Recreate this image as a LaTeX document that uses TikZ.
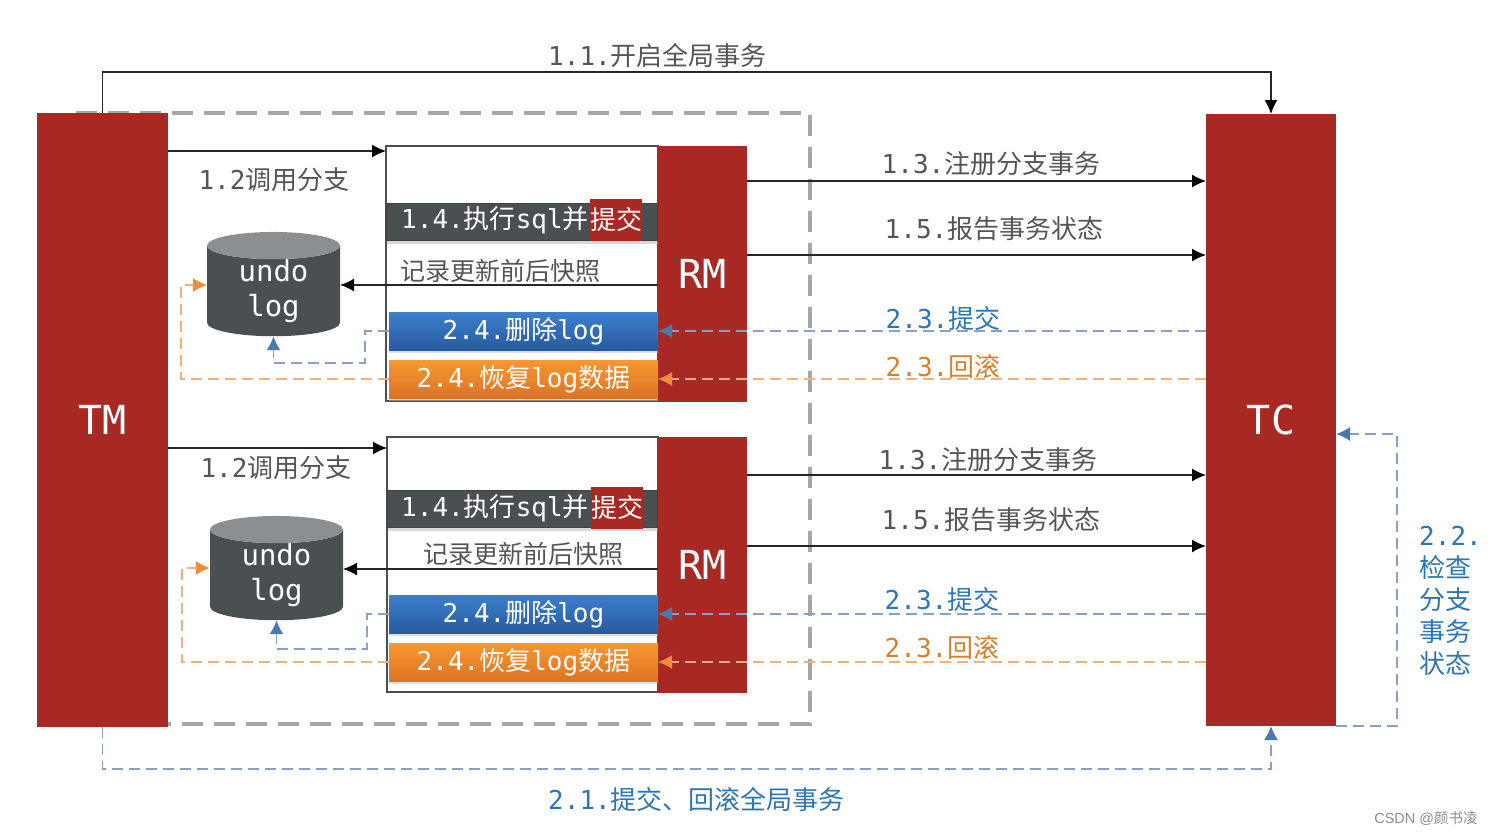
\documentclass[tikz,border=0pt]{standalone}
\usepackage{fontspec}
\setmainfont{DejaVu Sans Mono}
\newfontfamily\hzfont{Noto Sans CJK SC}
\newfontfamily\wmfont{Liberation Sans}
\newcommand{\hz}[1]{{\hzfont #1}}
\newcommand{\undotext}{\raisebox{-7pt}{\parbox{80pt}{\centering undo\\log}}}
\usetikzlibrary{arrows.meta,shapes.geometric,shadows}
\definecolor{brick}{RGB}{ 168, 40, 36 }
\definecolor{slate}{RGB}{ 74, 79, 82 }
\definecolor{slatetop}{RGB}{ 140, 143, 145 }
\definecolor{txtgray}{RGB}{ 85, 85, 85 }
\definecolor{txtblue}{RGB}{ 46, 117, 182 }
\definecolor{txtorange}{RGB}{ 214, 128, 44 }
\definecolor{dashblue}{RGB}{ 135, 160, 195 }
\definecolor{tipblue}{RGB}{ 74, 120, 176 }
\definecolor{dashorange}{RGB}{ 240, 175, 125 }
\definecolor{tiporange}{RGB}{ 237, 140, 60 }
\definecolor{deltop}{RGB}{ 60, 128, 204 }
\definecolor{delbot}{RGB}{ 40, 90, 160 }
\definecolor{redotop}{RGB}{ 247, 152, 50 }
\definecolor{redobot}{RGB}{ 220, 115, 35 }

\begin{document}
\begin{tikzpicture}[x=1pt,y=-1pt,
    flow/.style={draw=black!85,line width=1.4pt,-{Latex[length=14pt,width=13pt,color=black]}},
    blueflow/.style={draw=dashblue,line width=1.6pt,dash pattern=on 11pt off 6pt,
        -{Latex[length=14pt,width=14pt,color=tipblue]}},
    orangeflow/.style={draw=dashorange,line width=1.6pt,dash pattern=on 11pt off 6pt,
        -{Latex[length=14pt,width=14pt,color=tiporange]}},
    actor/.style={fill=brick,text=white,inner sep=0,outer sep=0,font=\fontsize{40}{44}\selectfont},
    rmbox/.style={draw=slate,line width=2pt,fill=white,anchor=north west,inner sep=0,outer sep=0},
    sqlbar/.style={fill=slate,draw=black!75,line width=1pt,anchor=north west,inner sep=0,minimum width=271pt,minimum height=37pt,
        drop shadow={shadow xshift=0pt,shadow yshift=-3pt,fill=black!30}},
    redtag/.style={fill=brick,text=white,inner sep=0,minimum width=52pt,minimum height=42pt,
        font=\fontsize{26}{30}\selectfont\hzfont},
    delbar/.style={top color=deltop,bottom color=delbot,
        text=white,anchor=north west,inner sep=0,outer sep=0,minimum width=269pt,minimum height=38pt,
        font=\fontsize{26}{30}\selectfont,
        drop shadow={shadow xshift=0pt,shadow yshift=-3pt,fill=black!25}},
    redobar/.style={top color=redotop,bottom color=redobot,
        text=white,anchor=north west,inner sep=0,outer sep=0,minimum width=269pt,minimum height=38pt,
        font=\fontsize{26}{30}\selectfont,
        drop shadow={shadow xshift=0pt,shadow yshift=-3pt,fill=black!25}},
    undodb/.style={shape=cylinder,shape border rotate=90,aspect=0.34,cylinder uses custom fill,
        cylinder body fill=slate,cylinder end fill=slatetop,text=white,inner sep=0,outer sep=0,
        minimum width=133pt,minimum height=97pt,font=\fontsize{29}{35}\selectfont},
    lbl/.style={text=txtgray,inner sep=0,font=\fontsize{26}{30}\selectfont},
    lblblue/.style={lbl,text=txtblue},
    lblorange/.style={lbl,text=txtorange}]
\useasboundingbox (0,0) rectangle (1491,835);

% global transaction frame
\draw[draw=black!35,line width=4pt,dash pattern=on 21pt off 11pt] (76,113) -- (810,113) -- (810,724) -- (168,724);

\node(tm)[actor,minimum width=131pt,minimum height=614pt] at (102.5,420) {\raisebox{-2pt}{TM}};
\node(tc)[actor,minimum width=130pt,minimum height=612pt] at (1271,420) {\raisebox{-1pt}{TC}};

% upper branch
\node(boxA)[rmbox,minimum width=272pt,minimum height=255pt] at (386,146) {};
\node(rmA)[actor,minimum width=89pt,minimum height=256pt] at (702.5,273.5) {\raisebox{-2pt}{RM}};
\node(sqlA)[sqlbar] at (386,203) {};
\node(sqlAtxt)[lbl,text=white,anchor=west] at (401,220) {1.4.\hz{执行}sql\hz{并}};
\node(tagA)[redtag] at (616,220) {提交};
\node(delA)[delbar] at (389,312) {2.4.\hz{删除}log};
\node(redoA)[redobar] at (389,360) {2.4.\hz{恢复}log\hz{数据}};
\node(dbA)[undodb] at (273.5,291) {\undotext};

% lower branch
\node(boxB)[rmbox,minimum width=271pt,minimum height=255pt] at (387,437) {};
\node(rmB)[actor,minimum width=89pt,minimum height=256pt] at (702.5,564.5) {\raisebox{-2pt}{RM}};
\node(sqlB)[sqlbar,minimum width=270pt] at (387,490) {};
\node(sqlBtxt)[lbl,text=white,anchor=west] at (401,508) {1.4.\hz{执行}sql\hz{并}};
\node(tagB)[redtag] at (617,508) {提交};
\node(delB)[delbar] at (389,595) {2.4.\hz{删除}log};
\node(redoB)[redobar] at (389,643) {2.4.\hz{恢复}log\hz{数据}};
\node(dbB)[undodb] at (276.5,575) {\undotext};

% begin and end of the global transaction
\draw[flow] (tm.north) -- ++(0,-41) -| (tc.north);
\draw[blueflow] (tm.south) -- ++(0,42) -| (tc.south);
\draw[blueflow] (tc.south east) -- ++(61,0) |- (tc.east |- 0,434);

% upper branch connectors
\draw[flow] (tm.east |- 0,151) -- (boxA.west |- 0,151);
\draw[flow] (rmA.east |- 0,181) -- (tc.west |- 0,181);
\draw[flow] (rmA.east |- 0,255) -- (tc.west |- 0,255);
\draw[flow] (rmA.west |- 0,285) -- (dbA.east |- 0,285);
\draw[blueflow] (tc.west |- delA.east) -- (rmA.west |- delA.east);
\draw[orangeflow] (tc.west |- redoA.east) -- (rmA.west |- redoA.east);
\draw[blueflow] (delA.west) -- (365,0 |- delA.west) -- (365,363) -| (dbA.south);
\draw[orangeflow] (redoA.west) -- (181,0 |- redoA.west) |- (dbA.west |- 0,285);

% lower branch connectors
\draw[flow] (tm.east |- 0,448) -- (boxB.west |- 0,448);
\draw[flow] (rmB.east |- 0,475) -- (tc.west |- 0,475);
\draw[flow] (rmB.east |- 0,546) -- (tc.west |- 0,546);
\draw[flow] (rmB.west |- 0,569) -- (dbB.east |- 0,569);
\draw[blueflow] (tc.west |- delB.east) -- (rmB.west |- delB.east);
\draw[orangeflow] (tc.west |- redoB.east) -- (rmB.west |- redoB.east);
\draw[blueflow] (delB.west) -- (367,0 |- delB.west) -- (367,649) -| (dbB.south);
\draw[orangeflow] (redoB.west) -- (182,0 |- redoB.west) |- (dbB.west |- 0,568);

% labels
\node(l11)[lbl] at (657.5,56) {1.1.\hz{开启全局事务}};
\node(l12a)[lbl] at (274,180) {1.2\hz{调用分支}};
\node(l12b)[lbl] at (276,468) {1.2\hz{调用分支}};
\node(l13a)[lbl] at (991,164) {1.3.\hz{注册分支事务}};
\node(l15a)[lbl] at (994,229) {1.5.\hz{报告事务状态}};
\node(l13b)[lbl] at (988,460) {1.3.\hz{注册分支事务}};
\node(l15b)[lbl] at (991,520) {1.5.\hz{报告事务状态}};
\node(snapA)[lbl,font=\fontsize{25}{28}\selectfont\hzfont] at (500,271) {记录更新前后快照};
\node(snapB)[lbl,font=\fontsize{25}{28}\selectfont\hzfont] at (523,554) {记录更新前后快照};
\node(l23a)[lblblue] at (943,319) {2.3.\hz{提交}};
\node(l23b)[lblorange] at (943,367) {2.3.\hz{回滚}};
\node(l23c)[lblblue] at (942,600) {2.3.\hz{提交}};
\node(l23d)[lblorange] at (942,648) {2.3.\hz{回滚}};
\node(l21)[lblblue] at (696.5,800) {2.1.\hz{提交、回滚全局事务}};
\node(l22)[lblblue,anchor=north west,align=left,font=\fontsize{26}{32}\selectfont] at (1419,526) {2.2.\\\hz{检查}\\\hz{分支}\\\hz{事务}\\\hz{状态}};
\node(mark)[text=black!45,inner sep=0,font=\fontsize{14.5}{18}\selectfont\wmfont] at (1426,818) {CSDN @\hz{颜书凌}};
\end{tikzpicture}
\end{document}
